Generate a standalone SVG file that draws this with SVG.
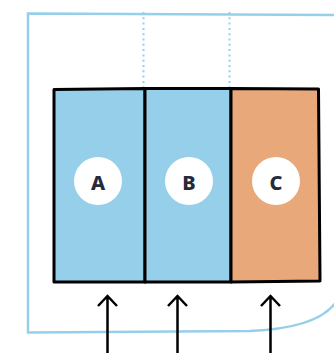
<svg xmlns="http://www.w3.org/2000/svg" width="334" height="353" viewBox="0 0 334 353">
<style>
.frame{fill:none;stroke:#96cfea;stroke-width:2.5}
.dot{fill:none;stroke:#96cfea;stroke-width:2;stroke-dasharray:2 3.3}
.box{stroke:#000;stroke-width:3;stroke-linejoin:round}
.blue{fill:#96cfea}
.orange{fill:#e8a87a}
.badge{fill:#fff}
.lbl{font-family:"Noto Sans","DejaVu Sans",sans-serif;font-weight:800;font-size:20px;fill:#242b3a;text-anchor:middle;dominant-baseline:central}
.arr{fill:none;stroke:#000;stroke-width:2.5}
</style>
<path class="frame" d="M334 15 L28 13.5 L28 332.5 L250 331 Q318 328 336 302"/>
<g id="dividers">
<line class="dot" x1="143.5" y1="12" x2="143.5" y2="88"/>
<line class="dot" x1="229.5" y1="12" x2="229.5" y2="88"/>
</g>
<g id="A">
<path class="box blue" d="M54 89.5 L145 88.5 L145 282 L54 282 Z"/>
<circle class="badge" cx="98" cy="181" r="24"/>
<text class="lbl" x="98" y="182">A</text>
</g>
<g id="B">
<path class="box blue" d="M145 88.5 L231 88.5 L231 282 L145 282 Z"/>
<circle class="badge" cx="189" cy="181" r="24"/>
<text class="lbl" x="189" y="182">B</text>
</g>
<g id="C">
<path class="box orange" d="M231 88.5 L318.5 89 L320 281 L231 282 Z"/>
<circle class="badge" cx="276" cy="181" r="24"/>
<text class="lbl" x="276" y="182">C</text>
</g>
<g id="connectors">
<path class="arr" d="M107.5 353 L107.5 296 M98 306 L107.5 296 L117 306"/>
<path class="arr" d="M177.5 353 L177.5 296 M168 306 L177.5 296 L187 306"/>
<path class="arr" d="M270.5 353 L270.5 296 M261 306 L270.5 296 L280 306"/>
</g>
</svg>
